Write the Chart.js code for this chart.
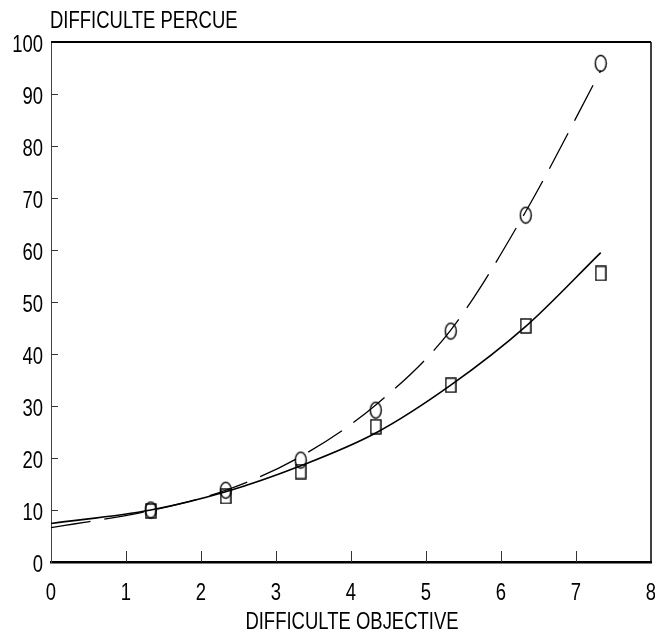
<!DOCTYPE html>
<html lang="fr">
<head>
<meta charset="UTF-8">
<title>Difficulte percue</title>
<style>
  html, body { margin: 0; padding: 0; background: #fff; }
  #wrap { width: 655px; height: 640px; }
</style>
</head>
<body>
<div id="wrap"><canvas id="chart" width="655" height="640"></canvas></div>
<script src="https://cdn.jsdelivr.net/npm/chart.js"></script>
<script>
// data
const xPoints = [1.33, 2.33, 3.33, 4.33, 5.33, 6.33, 7.33];
const circleValues = [10.0, 13.8, 19.6, 29.2, 44.4, 66.7, 95.9];
const squareValues = [9.8, 12.6, 17.4, 26.0, 34.0, 45.4, 55.5];
const curveX = [0, 1.33, 2.33, 3.33, 4.33, 5.33, 6.33, 7.33];
const solidCurve = [7.4, 10.0, 13.5, 18.5, 24.8, 34.0, 45.3, 59.5];
const dashedCurve = [6.6, 9.9, 13.8, 20.3, 30.2, 44.6, 67.4, 94.5];

const yTitle = 'DIFFICULTE PERCUE';
const xTitle = 'DIFFICULTE OBJECTIVE';
const FONT = "24px 'Liberation Sans', Arial, sans-serif";
const SQUEEZE = 0.77; // the plotter font is a narrow one

function toXY(xs, ys) {
    return xs.map((x, i) => ({ x: x, y: ys[i] }));
}

// hollow marker glyphs (tall ellipse, tall rectangle)
function ellipseMarker() {
    const c = document.createElement('canvas');
    c.width = 14; c.height = 19;
    const g = c.getContext('2d');
    g.strokeStyle = '#000';
    g.lineWidth = 1.4;
    g.beginPath();
    g.ellipse(7, 9.5, 5.5, 8, 0, 0, Math.PI * 2);
    g.stroke();
    return c;
}
function rectMarker() {
    const c = document.createElement('canvas');
    c.width = 12; c.height = 16;
    const g = c.getContext('2d');
    g.strokeStyle = '#000';
    g.lineWidth = 1.4;
    g.strokeRect(1, 1, 10, 14);
    return c;
}

// condensed text: squeeze horizontally around the anchor
function narrowText(ctx, text, x, y, align) {
    ctx.save();
    ctx.translate(x, y);
    ctx.scale(SQUEEZE, 1);
    ctx.textAlign = align;
    ctx.textBaseline = 'middle';
    ctx.fillText(text, 0, 0);
    ctx.restore();
}

const framePlugin = {
    id: 'frame',
    afterDraw(chart) {
        const { ctx, chartArea: a, scales } = chart;
        ctx.save();
        ctx.strokeStyle = '#000';
        // top and right edges
        ctx.lineWidth = 2;
        ctx.beginPath();
        ctx.moveTo(a.left, a.top);
        ctx.lineTo(a.right, a.top);
        ctx.stroke();
        ctx.lineWidth = 1.5;
        ctx.beginPath();
        ctx.moveTo(a.right, a.top);
        ctx.lineTo(a.right, a.bottom);
        ctx.stroke();
        // inward ticks
        ctx.lineWidth = 1;
        ctx.strokeStyle = '#333';
        ctx.beginPath();
        scales.y.ticks.forEach(t => {
            if (t.value <= 0 || t.value >= 100) return;
            const py = Math.round(scales.y.getPixelForValue(t.value)) + 0.5;
            ctx.moveTo(a.left, py);
            ctx.lineTo(a.left + 7, py);
        });
        scales.x.ticks.forEach(t => {
            if (t.value <= 0 || t.value >= 8) return;
            const px = Math.round(scales.x.getPixelForValue(t.value)) + 0.5;
            ctx.moveTo(px, a.bottom);
            ctx.lineTo(px, a.bottom - 11);
        });
        ctx.stroke();

        // labels and titles
        ctx.fillStyle = '#000';
        ctx.font = FONT;
        scales.y.ticks.forEach(t => {
            narrowText(ctx, String(t.value), a.left - 8, scales.y.getPixelForValue(t.value) + 3, 'right');
        });
        scales.x.ticks.forEach(t => {
            narrowText(ctx, String(t.value), scales.x.getPixelForValue(t.value), a.bottom + 31, 'center');
        });
        narrowText(ctx, xTitle, (a.left + a.right) / 2 + 1, 622, 'center');
        narrowText(ctx, yTitle, a.left - 1, 21, 'left');
        ctx.restore();
    }
};

new Chart(document.getElementById('chart'), {
    type: 'scatter',
    data: {
        datasets: [
            {
                label: 'courbe 1',
                data: toXY(curveX, solidCurve),
                showLine: true,
                borderColor: '#000',
                borderWidth: 1.6,
                pointRadius: 0,
                cubicInterpolationMode: 'monotone'
            },
            {
                label: 'courbe 2',
                data: toXY(curveX, dashedCurve),
                showLine: true,
                borderColor: '#000',
                borderWidth: 1.3,
                borderDash: [40, 14],
                pointRadius: 0,
                cubicInterpolationMode: 'monotone'
            },
            {
                label: 'cercles',
                data: toXY(xPoints, circleValues),
                pointStyle: ellipseMarker(),
                showLine: false
            },
            {
                label: 'carres',
                data: toXY(xPoints, squareValues),
                pointStyle: rectMarker(),
                showLine: false
            }
        ]
    },
    options: {
        responsive: false,
        animation: false,
        layout: { autoPadding: false, padding: { left: 0, right: 4, top: 42, bottom: 0 } },
        plugins: {
            legend: { display: false },
            tooltip: { enabled: false }
        },
        scales: {
            x: {
                type: 'linear',
                min: 0, max: 8,
                afterFit(scale) { scale.height = 78; },
                ticks: { stepSize: 1, display: false },
                grid: { display: false },
                border: { display: true, color: '#000', width: 2.5 }
            },
            y: {
                min: 0, max: 100,
                afterFit(scale) { scale.width = 51; },
                ticks: { stepSize: 10, display: false },
                grid: { display: false },
                border: { display: true, color: '#444', width: 1 }
            }
        }
    },
    plugins: [framePlugin]
});
</script>
</body>
</html>
